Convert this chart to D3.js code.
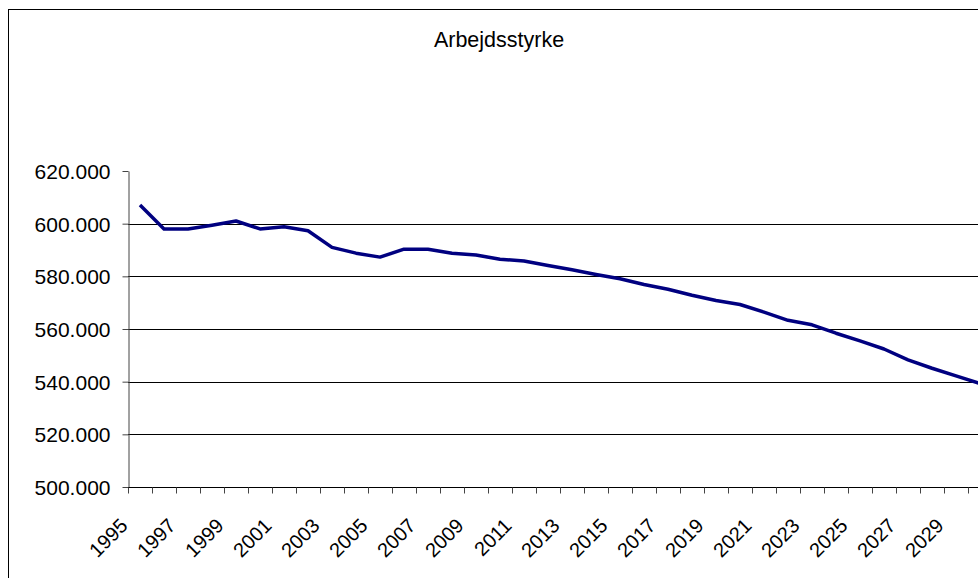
<!DOCTYPE html>
<html>
<head>
<meta charset="utf-8">
<script src="https://cdn.jsdelivr.net/npm/d3@7"></script>
<style>
  body { margin: 0; background: #fff; }
  svg { display: block; font-family: "Liberation Sans", Arial, sans-serif; }
</style>
</head>
<body>
<svg id="chart" width="978" height="578"></svg>
<script>
// Arbejdsstyrke 1995-2030
const years = d3.range(1995, 2031);
const values = [
  607100, 598000, 598000, 599400, 601000, 598000, 598800, 597300, 591000, 588800,
  587300, 590300, 590300, 588800, 588100, 586500, 585800, 584100, 582500, 580700,
  579100, 576900, 575100, 572800, 570800, 569300, 566400, 563300, 561600, 558400,
  555500, 552400, 548300, 545100, 542200, 539300
];
const yTicks = [500000, 520000, 540000, 560000, 580000, 600000, 620000];
const xLabels = years.filter((y) => (y - 1995) % 2 === 0 && y < 2030);
const title = 'Arbejdsstyrke';

const svg = d3.select('#chart');
const locale = d3.formatLocale({ decimal: ',', thousands: '.', grouping: [3], currency: ['', ''] });
const fmt = locale.format(',.0f');

const x = d3.scaleBand().domain(years).range([128, 128 + years.length * 24]);
const y = d3.scaleLinear().domain([500000, 620000]).range([487, 171]);

// chart border
svg.append('rect')
  .attr('x', 8.5).attr('y', 9.5)
  .attr('width', 1100).attr('height', 700)
  .attr('fill', 'none').attr('stroke', '#000');

svg.append('text')
  .attr('x', 499).attr('y', 47)
  .attr('text-anchor', 'middle')
  .attr('font-size', 21.5)
  .text(title);

// gridlines
svg.append('g').selectAll('line')
  .data(yTicks.filter((t) => t > 500000 && t < 620000))
  .enter()
  .append('line')
  .attr('x1', 128).attr('x2', 1000)
  .attr('y1', (d) => Math.round(y(d)) + 0.5)
  .attr('y2', (d) => Math.round(y(d)) + 0.5)
  .attr('stroke', '#000');

// y axis
const yAxis = svg.append('g')
  .attr('transform', 'translate(128.5,0)')
  .call(d3.axisLeft(y).tickValues(yTicks).tickFormat(fmt).tickSize(6).tickSizeOuter(0));
yAxis.select('.domain').attr('stroke', '#444');
yAxis.selectAll('.tick line').attr('stroke', '#444');
yAxis.selectAll('text')
  .attr('font-size', 21)
  .attr('font-family', '"Liberation Sans", Arial, sans-serif')
  .attr('fill', '#000')
  .attr('x', -18)
  .attr('dy', '0.35em');

// x axis
const xAxis = svg.append('g').attr('transform', 'translate(0,487.5)');
xAxis.append('line')
  .attr('x1', 128).attr('x2', 1000)
  .attr('stroke', '#000');
xAxis.selectAll('.xtick')
  .data(years)
  .enter()
  .append('line')
  .attr('x1', (d) => Math.round(x(d)) + 0.5)
  .attr('x2', (d) => Math.round(x(d)) + 0.5)
  .attr('y1', 0).attr('y2', 6)
  .attr('stroke', '#444');
svg.append('g').selectAll('text')
  .data(xLabels)
  .enter()
  .append('text')
  .attr('transform', (d) => `translate(${x(d) + x.bandwidth() / 2 - 16},522) rotate(-45)`)
  .attr('text-anchor', 'end')
  .attr('dy', '0.35em')
  .attr('font-size', 20)
  .text((d) => d);

// line
const line = d3.line()
  .x((d, i) => x(years[i]) + x.bandwidth() / 2)
  .y((d) => y(d));
svg.append('path')
  .datum(values)
  .attr('d', line)
  .attr('fill', 'none')
  .attr('stroke', '#000080')
  .attr('stroke-width', 3.5)
  .attr('stroke-linejoin', 'round');
</script>
</body>
</html>
